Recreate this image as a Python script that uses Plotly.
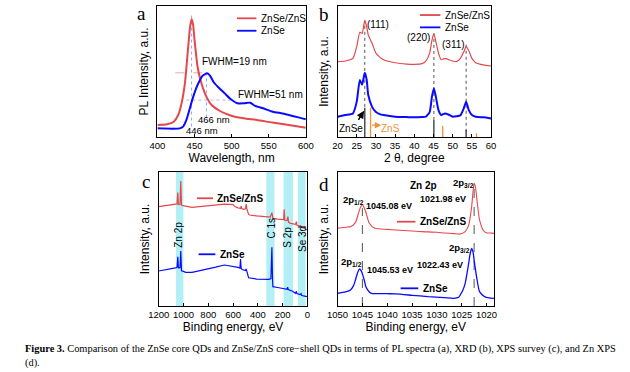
import plotly.graph_objects as go

RED = "#e4484b"
BLUE = "#0a0aff"
SANS = "Liberation Sans"
SERIF = "Liberation Serif"

# ---------------- Panel a: PL spectra ----------------
pl_wl_shell = [400, 413, 422, 428, 432, 437, 441, 444, 446, 448, 450, 454, 458, 465, 473, 482, 491, 504, 520, 534, 555, 577, 600]
pl_int_shell = [.092, .097, .117, .168, .244, .41, .66, .84, .898, .86, .74, .54, .435, .32, .244, .206, .18, .155, .14, .13, .11, .092, .071]
pl_wl_core = [400, 430, 434.6, 439, 443, 447.5, 452, 456, 460.5, 467, 471, 475.6, 482, 490.7, 499, 508, 516.6, 525, 531.7, 542.5, 555.5, 568.5, 577, 590, 600]
pl_int_core = [.066, .066, .079, .13, .206, .295, .37, .42, .466, .486, .466, .42, .38, .333, .288, .257, .257, .262, .237, .219, .193, .18, .168, .15, .135]
pl_peak_nm = [446, 466]
pl_peak_guide_lo = [0.08, 0.15]
pl_peak_guide_hi = [0.945, 0.49]
fwhm_shell_x = [424, 467]
fwhm_shell_y = 0.49
fwhm_core_x = [439, 504]
fwhm_core_y = 0.282

# ---------------- Panel b: XRD ----------------
xrd_2t = [20, 22, 24, 25, 25.8, 26.4, 27.1, 27.6, 28, 29, 30, 31, 32, 35, 38, 40, 42, 43, 44, 44.6, 45.1, 45.6, 46.3, 47, 48, 49, 50, 51, 52, 52.9, 53.5, 54.2, 55, 56, 58, 60]
xrd_shell = [.575, .58, .60, .69, .80, .79, .89, .84, .78, .715, .64, .61, .59, .567, .557, .555, .56, .58, .64, .74, .79, .73, .64, .59, .60, .59, .58, .575, .60, .65, .69, .66, .60, .567, .55, .542]
xrd_core = [.155, .168, .18, .27, .435, .40, .49, .435, .32, .23, .19, .175, .168, .155, .152, .15, .152, .155, .19, .31, .37, .31, .205, .168, .18, .17, .155, .158, .165, .22, .27, .205, .168, .155, .15, .142]
xrd_planes = ["(111)", "(220)", "(311)"]
xrd_plane_pos = [27.1, 45.1, 53.5]
xrd_plane_guide_hi = [0.89, 0.79, 0.715]
xrd_plane_guide_lo = [0.23, 0.13, 0.04]
xrd_plane_label_x = [30.6, 41.1, 50.1]
xrd_plane_label_y = [0.862, 0.761, 0.708]
znse_ref_pos = [27.1, 45.1, 53.5]
znse_ref_int = [0.224, 0.13, 0.053]
zns_ref_pos = [28.6, 47.4, 56.2]
zns_ref_int = [0.224, 0.086, 0.028]

# ---------------- Panel c: XPS survey ----------------
xps_be_shell = [1200, 1150, 1100, 1065, 1052, 1046, 1041, 1028, 1022, 1016, 1000, 983, 931, 870, 801, 740, 670, 600, 585, 560, 540, 535, 530, 515, 500, 494, 488, 475, 467, 410, 332, 300, 287, 283, 279, 240, 201, 192, 188, 183, 165, 158, 152, 136, 97, 92, 89, 86, 70, 58, 55, 52, 35, 20, 5]
xps_int_shell = [.741, .748, .754, .759, .762, .846, .758, .760, .933, .752, .751, .745, .736, .742, .749, .755, .761, .756, .742, .732, .729, .746, .728, .722, .725, .761, .72, .685, .679, .672, .667, .664, .697, .66, .654, .648, .642, .645, .721, .64, .638, .667, .625, .617, .609, .62, .63, .604, .60, .595, .602, .592, .585, .578, .567]
xps_be_core = [1200, 1150, 1100, 1065, 1052, 1046, 1041, 1028, 1022, 1016, 1000, 983, 931, 870, 801, 740, 670, 600, 560, 545, 540, 535, 527, 501, 495, 490, 475, 410, 311, 295, 287, 282, 279, 240, 201, 165, 160, 155, 120, 97, 92, 89, 86, 60, 52, 48, 32, 5]
xps_int_core = [.261, .268, .276, .284, .288, .368, .285, .286, .41, .262, .258, .251, .251, .262, .276, .29, .306, .298, .288, .283, .351, .282, .272, .265, .276, .262, .211, .201, .199, .205, .438, .2, .144, .138, .132, .125, .14, .122, .11, .095, .105, .11, .093, .085, .092, .08, .075, .07]
xps_bands = ["Zn 2p", "C 1s", "S 2p", "Se 3d"]
xps_band_hi = [1061, 332, 193, 78]
xps_band_lo = [1001, 266, 117, 15]
xps_band_label_x = [1038, 292, 156, 44]
xps_band_label_y = [0.53, 0.58, 0.51, 0.50]

# ---------------- Panel d: Zn 2p ----------------
zn_be_shell = [1050, 1048, 1047.4, 1046.4, 1045.8, 1045.4, 1045.0, 1044.6, 1044.3, 1043.6, 1042.5, 1040, 1038.3, 1035, 1033.1, 1030, 1028.5, 1026.5, 1025.3, 1024.3, 1023.6, 1023.0, 1022.7, 1022.5, 1022.2, 1022.0, 1021.4, 1020.7, 1020.1, 1019, 1018.5]
zn_int_shell = [.58, .59, .592, .622, .69, .735, .756, .73, .70, .617, .58, .572, .567, .56, .555, .55, .545, .54, .537, .555, .604, .74, .86, .915, .88, .816, .642, .567, .547, .544, .542]
zn_be_core = [1050, 1048, 1047.4, 1046.8, 1046.4, 1046.0, 1045.6, 1045.2, 1045.0, 1044.6, 1044.3, 1043.6, 1043.2, 1040, 1038.3, 1035, 1031.8, 1028.5, 1026.6, 1025.6, 1025.3, 1024.8, 1024.3, 1023.6, 1023.3, 1023.0, 1022.7, 1022.5, 1021.9, 1021.4, 1020.4, 1019.5, 1018.5]
zn_int_core = [.095, .11, .12, .15, .194, .245, .276, .26, .24, .19, .144, .105, .095, .092, .09, .08, .07, .063, .057, .065, .082, .115, .169, .318, .39, .43, .40, .343, .194, .107, .07, .06, .057]
zn_guide_pos = [1045.0, 1022.5]
zn_guide_hi = [0.73, 0.915]

fig = go.Figure()

def line(x, y, ax, color, width, dash="solid", shape="linear", smoothing=1.0):
    fig.add_trace(go.Scatter(x=x, y=y, xaxis="x" + ax, yaxis="y" + ax, mode="lines",
                             line=dict(color=color, width=width, dash=dash, shape=shape,
                                       smoothing=smoothing),
                             showlegend=False, hoverinfo="skip"))

def segs(xs, lo, hi):
    X, Y = [], []
    for x, a, b in zip(xs, lo, hi):
        X += [x, x, None]
        Y += [a, b, None]
    return X, Y

def hsegs(xpairs, ys):
    X, Y = [], []
    for (a, b), y in zip(xpairs, ys):
        X += [a, b, None]
        Y += [y, y, None]
    return X, Y

# --- a ---
X, Y = segs(pl_peak_nm, pl_peak_guide_lo, pl_peak_guide_hi)
line(X, Y, "", "#9aa0ff", 1, "dot")
X, Y = hsegs([fwhm_shell_x], [fwhm_shell_y])
line(X, Y, "", "#f3a6a6", 1, "dash")
X, Y = hsegs([fwhm_core_x], [fwhm_core_y])
line(X, Y, "", "#c8a8f0", 1, "dot")
line(pl_wl_shell, pl_int_shell, "", RED, 2, shape="spline", smoothing=0.6)
line(pl_wl_core, pl_int_core, "", BLUE, 2, shape="spline", smoothing=0.6)

# --- b ---
X, Y = segs(xrd_plane_pos, xrd_plane_guide_lo, xrd_plane_guide_hi)
line(X, Y, "2", "#555555", 1, "dot")
X, Y = segs(znse_ref_pos, [0] * 3, znse_ref_int)
line(X, Y, "2", "#333333", 1.3)
X, Y = segs(zns_ref_pos, [0] * 3, zns_ref_int)
line(X, Y, "2", "#f0923a", 1.3)
line(xrd_2t, xrd_shell, "2", RED, 1.2, shape="spline", smoothing=0.5)
line(xrd_2t, xrd_core, "2", BLUE, 2, shape="spline", smoothing=0.5)

# --- c ---
line(xps_be_shell, xps_int_shell, "3", RED, 1.2)
line(xps_be_core, xps_int_core, "3", BLUE, 1.2)

# --- d ---
X, Y = segs(zn_guide_pos, [0, 0], zn_guide_hi)
line(X, Y, "4", "#555555", 1, "dash")
line(zn_be_shell, zn_int_shell, "4", RED, 1.1, shape="spline", smoothing=0.6)
line(zn_be_core, zn_int_core, "4", BLUE, 1.3, shape="spline", smoothing=0.6)

shapes = []
for lo, hi in zip(xps_band_lo, xps_band_hi):
    shapes.append(dict(type="rect", xref="x3", yref="y3 domain", x0=lo, x1=hi, y0=0, y1=1,
                       fillcolor="#b2f0f6", line=dict(width=0), layer="below"))

annotations = []

def legend_item(ax, x0, x1, y, text, color, bold=False):
    shapes.append(dict(type="line", xref="x%s domain" % ax, yref="y%s domain" % ax,
                       x0=x0, x1=x1, y0=y, y1=y, line=dict(color=color, width=1.8)))
    annotations.append(dict(xref="x%s domain" % ax, yref="y%s domain" % ax, x=x1 + 0.015, y=y,
                            text=("<b>%s</b>" % text) if bold else text, showarrow=False,
                            xanchor="left", yanchor="middle",
                            font=dict(family=SANS, size=10, color="black")))

legend_item("", 0.536, 0.667, 0.906, "ZnSe/ZnS", RED)
legend_item("", 0.536, 0.667, 0.811, "ZnSe", BLUE)
legend_item("2", 0.537, 0.670, 0.931, "ZnSe/ZnS", RED)
legend_item("2", 0.537, 0.670, 0.837, "ZnSe", BLUE)
legend_item("3", 0.257, 0.365, 0.804, "ZnSe/ZnS", RED, True)
legend_item("3", 0.268, 0.381, 0.386, "ZnSe", BLUE, True)
legend_item("4", 0.380, 0.498, 0.629, "ZnSe/ZnS", RED, True)
legend_item("4", 0.403, 0.516, 0.132, "ZnSe", BLUE, True)

def txt(ax, x, y, text, size=10, anchor="left", bold=False, angle=0, color="black"):
    annotations.append(dict(xref="x" + ax, yref="y" + ax, x=x, y=y,
                            text=("<b>%s</b>" % text) if bold else text, showarrow=False,
                            xanchor=anchor, yanchor="middle", textangle=angle,
                            font=dict(family=SANS, size=size, color=color)))

# a texts
txt("", 457.5, 0.58, "FWHM=19 nm")
txt("", 505.5, 0.326, "FWHM=51 nm")
txt("", 452, 0.137, "466 nm", size=9.5)
txt("", 435.7, 0.053, "446 nm", size=9.5)
# b texts
for lab, x, y in zip(xrd_planes, xrd_plane_label_x, xrd_plane_label_y):
    txt("2", x, y, lab, anchor="center")
txt("2", 23.6, 0.066, "ZnSe", anchor="center")
txt("2", 33.9, 0.066, "ZnS", anchor="center", color="#f0923a")
annotations.append(dict(xref="x2", yref="y2", x=26.9, y=0.2, ax=25.2, ay=0.12,
                        axref="x2", ayref="y2", showarrow=True, arrowhead=2, arrowsize=1,
                        arrowwidth=1.5, arrowcolor="black", text=""))
annotations.append(dict(xref="x2", yref="y2", x=31.4, y=0.09, ax=28.6, ay=0.09,
                        axref="x2", ayref="y2", showarrow=True, arrowhead=2, arrowsize=1,
                        arrowwidth=1.3, arrowcolor="#f0923a", text=""))
# c texts
for lab, x, y in zip(xps_bands, xps_band_label_x, xps_band_label_y):
    txt("3", x, y, lab, anchor="center", angle=-90)
# d texts
txt("4", 1032.7, 0.90, "Zn 2p", anchor="center", bold=True)
txt("4", 1024.6, 0.918, "2p<sub>3/2</sub>", anchor="center", size=9.5, bold=True)
txt("4", 1028.85, 0.80, "1021.98 eV", anchor="center", size=9, bold=True)
txt("4", 1046.8, 0.79, "2p<sub>1/2</sub>", anchor="center", size=9.5, bold=True)
txt("4", 1039.6, 0.746, "1045.08 eV", anchor="center", size=9, bold=True)
txt("4", 1025.4, 0.433, "2p<sub>3/2</sub>", anchor="center", size=9.5, bold=True)
txt("4", 1029.3, 0.306, "1022.43 eV", anchor="center", size=9, bold=True)
txt("4", 1047.1, 0.33, "2p<sub>1/2</sub>", anchor="center", size=9.5, bold=True)
txt("4", 1039.5, 0.27, "1045.53 eV", anchor="center", size=9, bold=True)

# panel letters
for letter, px, py in [("a", 134.5, 13.3), ("b", 322.5, 15.0), ("c", 139.2, 181.6), ("d", 322.5, 184.3)]:
    annotations.append(dict(xref="paper", yref="paper", x=px / 630, y=1 - py / 372, text=letter,
                            showarrow=False, xanchor="center", yanchor="middle",
                            font=dict(family=SERIF, size=19, color="black")))

# caption
annotations.append(dict(xref="paper", yref="paper", x=12 / 630, y=1 - 349 / 372, xanchor="left",
                        yanchor="middle", showarrow=False,
                        text="<b>Figure 3.</b> Comparison of the ZnSe core QDs and ZnSe/ZnS core\u2212shell QDs in terms of PL spectra (a), XRD (b), XPS survey (c), and Zn XPS",
                        font=dict(family=SERIF, size=10.4, color="black")))
annotations.append(dict(xref="paper", yref="paper", x=12 / 630, y=1 - 363 / 372, xanchor="left",
                        yanchor="middle", showarrow=False, text="(d).",
                        font=dict(family=SERIF, size=10.4, color="black")))

def xax(domain, rng, dtick, title, anchor):
    return dict(domain=domain, range=rng, dtick=dtick, anchor=anchor, showline=True, mirror=True,
                linecolor="black", linewidth=1, ticks="inside", ticklen=3, tickcolor="black",
                showgrid=False, zeroline=False, tickfont=dict(family=SANS, size=9.5, color="black"),
                title=dict(text=title, standoff=3, font=dict(family=SANS, size=12, color="black")))

def yax(domain, title, anchor):
    return dict(domain=domain, range=[0, 1], anchor=anchor, showline=True, mirror=True,
                linecolor="black", linewidth=1, ticks="", showticklabels=False, showgrid=False,
                zeroline=False,
                title=dict(text=title, standoff=5, font=dict(family=SANS, size=12, color="black")))

top = [1 - 137 / 372, 1 - 6 / 372]
bot = [1 - 306 / 372, 1 - 172 / 372]

fig.update_layout(
    width=630, height=372, margin=dict(l=0, r=0, t=0, b=0),
    paper_bgcolor="white", plot_bgcolor="white", showlegend=False,
    xaxis=xax([151 / 630, 304 / 630], [400, 600], 50, "Wavelength, nm", "y"),
    yaxis=yax(top, "PL Intensity, a.u.", "x"),
    xaxis2=xax([336.7 / 630, 495 / 630], [20, 60], 5, "2 \u03b8, degree", "y2"),
    yaxis2=yax(top, "Intensity, a.u.", "x2"),
    xaxis3=xax([152.3 / 630, 305.7 / 630], [1200, 0], 200, "Binding energy, eV", "y3"),
    yaxis3=yax(bot, "Intensity, a.u.", "x3"),
    xaxis4=xax([336.7 / 630, 498 / 630], [1050, 1018.5], 5, "Binding energy, eV", "y4"),
    yaxis4=yax(bot, "Intensity, a.u.", "x4"),
    shapes=shapes, annotations=annotations,
)

fig.write_html("out.html", config={"displayModeBar": False},
               post_script="document.body.style.margin='0';document.body.style.overflow='hidden';")
